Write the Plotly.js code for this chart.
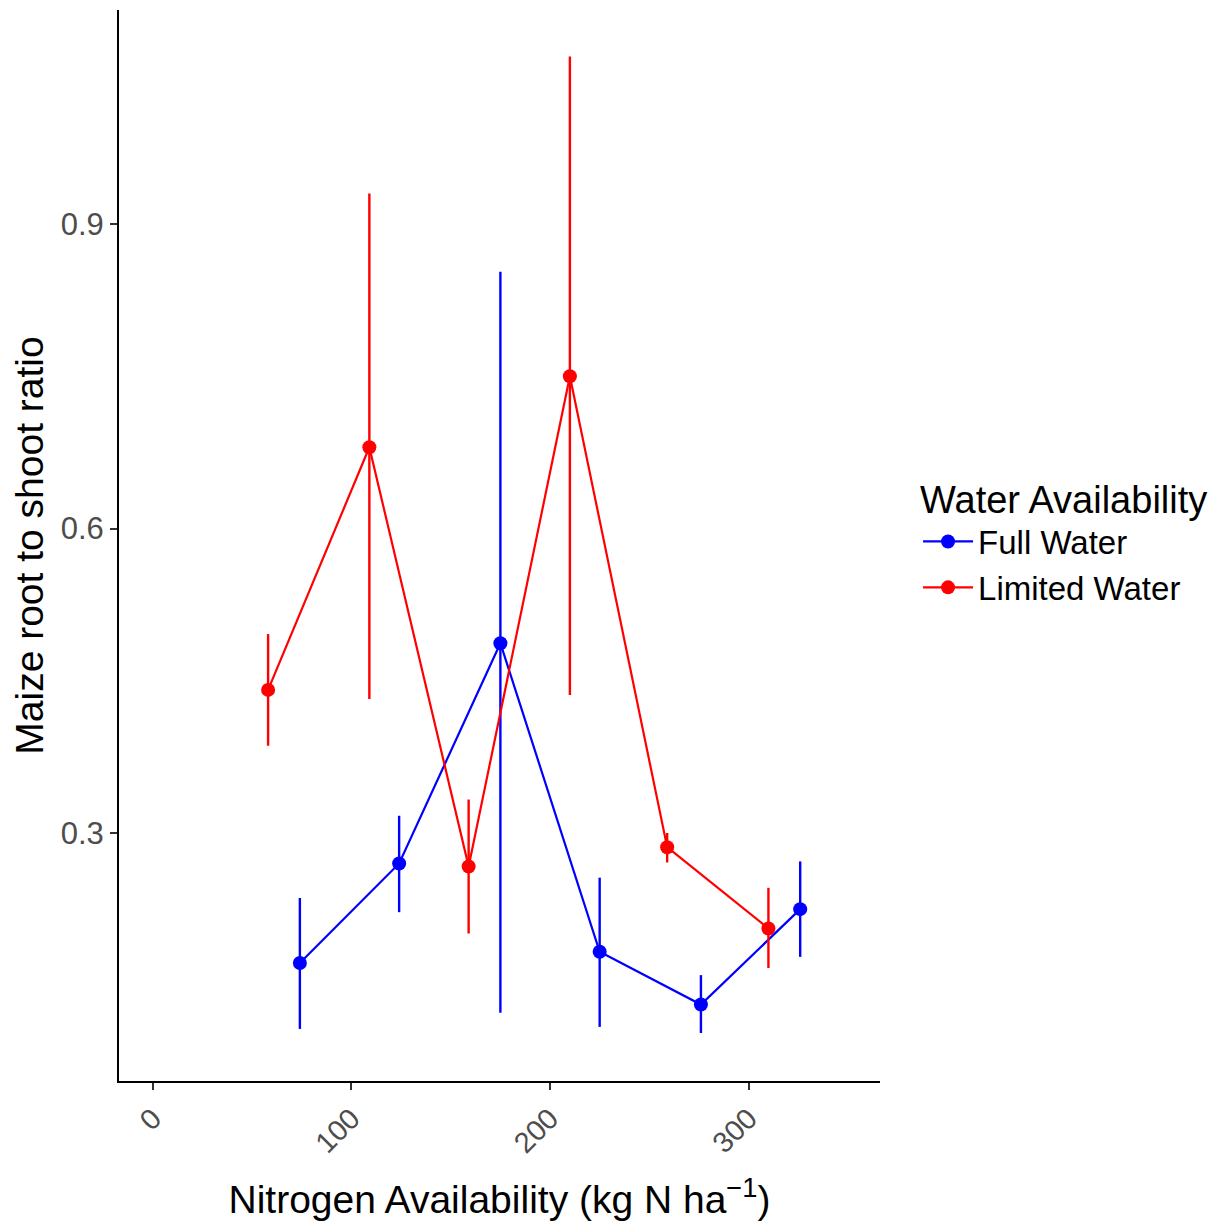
<!DOCTYPE html>
<html>
<head>
<meta charset="utf-8">
<script src="https://cdn.plot.ly/plotly-3.0.1.min.js"></script>
<style>html,body{margin:0;padding:0;background:#fff;}#chart{width:1232px;height:1226px;}</style>
</head>
<body>
<div id="chart"></div>
<script>
// Full Water
const fullN    = [74, 124, 175, 225, 276, 326];
const fullMean = [0.172, 0.270, 0.487, 0.183, 0.131, 0.225];
const fullHi   = [0.236, 0.317, 0.853, 0.256, 0.160, 0.272];
const fullLo   = [0.107, 0.222, 0.123, 0.109, 0.103, 0.178];
// Limited Water
const limN    = [58, 109, 159, 210, 259, 310];
const limMean = [0.441, 0.680, 0.267, 0.750, 0.286, 0.206];
const limHi   = [0.496, 0.930, 0.333, 1.065, 0.300, 0.246];
const limLo   = [0.386, 0.432, 0.201, 0.436, 0.271, 0.167];
// Tick labels
const xTicks = [0, 100, 200, 300];
const yTicks = [0.3, 0.6, 0.9];

function mk(name, x, y, hi, lo, color){
  return {
    type:'scatter', mode:'lines+markers', name:name, x:x, y:y,
    line:{color:color, width:2.2},
    marker:{color:color, size:14},
    error_y:{type:'data', symmetric:false,
      array:y.map((v,i)=>hi[i]-v), arrayminus:y.map((v,i)=>v-lo[i]),
      color:color, thickness:2.4, width:0}
  };
}

const data = [
  mk('Full Water', fullN, fullMean, fullHi, fullLo, '#0000FF'),
  mk('Limited Water', limN, limMean, limHi, limLo, '#FF0000')
];

const layout = {
  width:1232, height:1226,
  paper_bgcolor:'#fff', plot_bgcolor:'#fff',
  margin:{l:119, r:352, t:10, b:145},
  font:{family:'"Liberation Sans", Arial, sans-serif'},
  xaxis:{
    range:[-17.1, 366.2], tickvals:xTicks, ticktext:xTicks.map(String),
    tickangle:-45, showgrid:false, zeroline:false,
    showline:true, linecolor:'#000', linewidth:2,
    ticks:'outside', ticklen:7, tickwidth:1.5, tickcolor:'#333',
    tickfont:{size:29, color:'#4d4d4d'},
    title:{text:'Nitrogen Availability (kg N ha<sup>\u22121</sup>)', font:{size:39, color:'#000'}, standoff:28}
  },
  yaxis:{
    range:[0.0557, 1.1108], tickvals:yTicks, ticktext:yTicks.map(v=>v.toFixed(1)),
    showgrid:false, zeroline:false,
    showline:true, linecolor:'#000', linewidth:2,
    ticks:'outside', ticklen:7, tickwidth:1.5, tickcolor:'#333',
    tickfont:{size:31, color:'#4d4d4d'},
    title:{text:'Maize root to shoot ratio', font:{size:39, color:'#000'}, standoff:5}
  },
  legend:{
    x:1.05, xanchor:'left', y:0.576, yanchor:'top',
    title:{text:'Water Availability', font:{size:38, color:'#000'}},
    font:{size:33, color:'#000'}, bgcolor:'rgba(0,0,0,0)', tracegroupgap:0,
    itemwidth:50
  },
  showlegend:true
};

Plotly.newPlot('chart', data, layout, {displayModeBar:false});
</script>
</body>
</html>
